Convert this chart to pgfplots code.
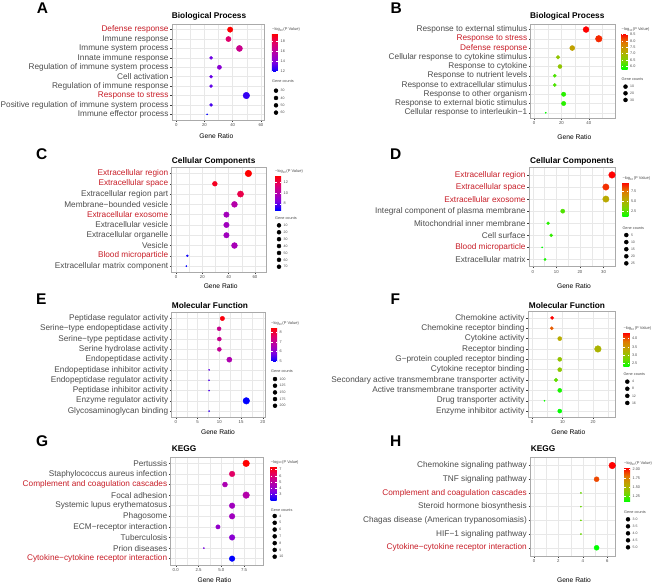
\documentclass[border=0pt]{standalone}
\usepackage{pgfplots}
\pgfplotsset{compat=1.18}
\usepackage{fontspec}
\setmainfont{Liberation Sans}
\newcommand{\fs}[1]{\fontsize{#1}{#1}\selectfont}
\definecolor{labgray}{RGB}{77,77,77}
\definecolor{labred}{RGB}{200,30,40}
\definecolor{gridgray}{RGB}{232,232,232}
\definecolor{bordergray}{RGB}{170,170,170}
\definecolor{tickgray}{RGB}{60,60,60}
\newcommand{\R}[1]{\textcolor{labred}{#1}}
\pgfplotsset{
  colormap={br}{rgb255=(0,0,255) rgb255=(125,0,225) rgb255=(180,0,170) rgb255=(225,0,105) rgb255=(255,0,0)},
  colormap={gr}{rgb255=(0,255,0) rgb255=(125,210,0) rgb255=(185,170,0) rgb255=(225,120,0) rgb255=(255,0,0)},
  dotpanel/.style={
    scale only axis, y dir=reverse, clip=false, anchor=south west,
    axis line style={draw=bordergray, line width=0.5pt},
    tick align=outside, tick pos=left,
    major tick length=1.8pt, minor tick length=0pt,
    tick style={draw=tickgray, line width=0.4pt},
    xmajorgrids, xminorgrids, ymajorgrids,
    major grid style={draw=gridgray, line width=0.5pt},
    minor grid style={draw=gridgray, line width=0.25pt},
    xticklabel style={font=\fs{4.3}, text=labgray, inner sep=1.5pt},
    yticklabel style={font=\fs{8.25}, text=labgray, inner sep=1.5pt},
    ymin=0.4,
    colorbar,
    colorbar style={at={(parent axis.north east)}, anchor=north west, scale only axis, width=6pt,
      axis line style={draw=none}, tick align=inside, major tick length=1.5pt,
      tick style={draw=white, line width=0.3pt},
      yticklabel style={font=\fs{3.8}, text=labgray, inner sep=1pt, xshift=1.5pt},
      yticklabel pos=right},
  },
  dots/.style 2 args={scatter, only marks, mark=*, forget plot, point meta=explicit,
    scatter/use mapped color={draw=mapped color, fill=mapped color},
    visualization depends on={0.6+2.7*sqrt((\thisrow{n}-#1)/(#2-#1)) \as \ms},
    scatter/@pre marker code/.append style={/tikz/mark size=\ms}},
  sizeleg/.style={scale only axis, width=2pt, xmin=-1, xmax=1, y dir=reverse,
    hide axis, clip=false, anchor=north},
  legdots/.style 2 args={scatter, only marks, mark=*, point meta=explicit,
    scatter/use mapped color={draw=black, fill=black},
    visualization depends on={0.6+2.7*sqrt((\thisrow{n}-#1)/(#2-#1)) \as \ms},
    scatter/@pre marker code/.append style={/tikz/mark size=\ms},
    nodes near coords={\pgfmathprintnumber[assume math mode=true]{\pgfplotspointmeta}},
    every node near coord/.append style={anchor=west, xshift=4.5pt, font=\fs{3.5}, text=labgray, inner sep=0pt}},
}
\begin{document}
\begin{tikzpicture}[x=1pt,y=1pt]
\fill[white] (0,0) rectangle (656,584);
\path[use as bounding box] (0,0) rectangle (656,584);

% ---------------- text nodes ----------------
\begin{scope}[every node/.style={inner sep=0pt}]
\node[anchor=base west, font=\bfseries\fs{15.5}] at (36.7,570.7) {A};
\node[anchor=base west, font=\bfseries\fs{15.5}] at (390.3,570.7) {B};
\node[anchor=base west, font=\bfseries\fs{15.5}] at (36,424.7) {C};
\node[anchor=base west, font=\bfseries\fs{15.5}] at (390,424.3) {D};
\node[anchor=base west, font=\bfseries\fs{15.5}] at (36,279) {E};
\node[anchor=base west, font=\bfseries\fs{15.5}] at (390.3,279) {F};
\node[anchor=base west, font=\bfseries\fs{15.5}] at (36,137.3) {G};
\node[anchor=base west, font=\bfseries\fs{15.5}] at (390,137.3) {H};

\node[anchor=base west, font=\bfseries\fs{8.3}] at (171.7,565) {Biological Process};
\node[anchor=base west, font=\bfseries\fs{8.3}] at (530,565) {Biological Process};
\node[anchor=base west, font=\bfseries\fs{8.3}] at (171.7,420.5) {Cellular Components};
\node[anchor=base west, font=\bfseries\fs{8.3}] at (530,420.2) {Cellular Components};
\node[anchor=base west, font=\bfseries\fs{8.3}] at (171.7,275) {Molecular Function};
\node[anchor=base west, font=\bfseries\fs{8.3}] at (528.7,275) {Molecular Function};
\node[anchor=base west, font=\bfseries\fs{8.3}] at (171.7,132.3) {KEGG};
\node[anchor=base west, font=\bfseries\fs{8.3}] at (530.7,132.7) {KEGG};

\node[font=\fs{6.7}] at (216.3,447.7) {Gene Ratio};
\node[font=\fs{6.7}] at (574.3,447.3) {Gene Ratio};
\node[font=\fs{6.7}] at (220.7,298.2) {Gene Ratio};
\node[font=\fs{6.7}] at (574,297.8) {Gene Ratio};
\node[font=\fs{6.7}] at (218,151.5) {Gene Ratio};
\node[font=\fs{6.7}] at (568.3,151.5) {Gene Ratio};
\node[font=\fs{6.7}] at (214.5,3.5) {Gene Ratio};
\node[font=\fs{6.7}] at (574,3.5) {Gene Ratio};

\node[anchor=base west, font=\fs{4}, text=labgray] at (272,553.5) {−log\textsubscript{10}(P Value)};
\node[anchor=base west, font=\fs{4}, text=labgray] at (621.5,553.5) {−log\textsubscript{10}(P Value)};
\node[anchor=base west, font=\fs{4}, text=labgray] at (275,411.3) {−log\textsubscript{10}(P Value)};
\node[anchor=base west, font=\fs{4}, text=labgray] at (622.3,404.7) {−log\textsubscript{10}(P Value)};
\node[anchor=base west, font=\fs{4}, text=labgray] at (271,259.3) {−log\textsubscript{10}(P Value)};
\node[anchor=base west, font=\fs{4}, text=labgray] at (623.3,254.3) {−log\textsubscript{10}(P Value)};
\node[anchor=base west, font=\fs{4}, text=labgray] at (270.7,121) {−log\textsubscript{10}(P Value)};
\node[anchor=base west, font=\fs{4}, text=labgray] at (624,119.3) {−log\textsubscript{10}(P Value)};

\node[anchor=base west, font=\fs{3.8}, text=labgray] at (272,501.2) {Gene counts};
\node[anchor=base west, font=\fs{3.8}, text=labgray] at (621.5,503) {Gene counts};
\node[anchor=base west, font=\fs{3.8}, text=labgray] at (275,364) {Gene counts};
\node[anchor=base west, font=\fs{3.8}, text=labgray] at (622.3,354.2) {Gene counts};
\node[anchor=base west, font=\fs{3.8}, text=labgray] at (271,211.2) {Gene counts};
\node[anchor=base west, font=\fs{3.8}, text=labgray] at (623.3,208) {Gene counts};
\node[anchor=base west, font=\fs{3.8}, text=labgray] at (270.7,73) {Gene counts};
\node[anchor=base west, font=\fs{3.8}, text=labgray] at (624,70.2) {Gene counts};
\end{scope}

% ================= A =================
\begin{axis}[dotpanel, colormap name=br, at={(172pt,464pt)}, width=92pt, height=96pt,
  xmin=-3, xmax=62.2, xtick={0,20,40,60}, xticklabels={0,20,40,60}, minor xtick={10,30,50},
  ymax=10.6, ytick={1,...,10},
  yticklabels={\R{Defense response},Immune response,Immune system process,Innate immune response,Regulation of immune system process,Cell activation,Regulation of immune response,\R{Response to stress},Positive regulation of immune system process,Immune effector process},
  point meta min=11.8, point meta max=19.6,
  colorbar shift/.style={xshift=8pt,yshift=-9.5pt},
  colorbar style={height=38.5pt, ytick={12,14,16,18}, yticklabels={12,14,16,18}}]
\addplot[dots={27}{62}] table[x=x,y=y,meta=p]{
y x p n
1 38.2 19.6 48
2 37.0 17.6 46
3 44.8 16.6 56
4 24.7 13.5 31
5 30.6 14.2 38
6 24.7 13.4 31
7 24.7 13.3 31
8 49.7 12.6 62
9 24.7 12.9 31
10 21.9 11.8 27
};
\end{axis}
\begin{axis}[sizeleg, at={(276pt,497pt)}, height=29.3pt, ymin=25, ymax=65]
\addplot[legdots={27}{62}] table[x=x,y=n,meta=n]{
x n
0 30
0 40
0 50
0 60
};
\end{axis}

% ================= B =================
\begin{axis}[dotpanel, colormap name=gr, at={(530.7pt,465.7pt)}, width=84.6pt, height=94.3pt,
  xmin=-2.5, xmax=59.4, xtick={0,20,40}, xticklabels={0,20,40}, minor xtick={10,30,50},
  ymax=10.6, ytick={1,...,10},
  yticklabels={Response to external stimulus,\R{Response to stress},\R{Defense response},Cellular response to cytokine stimulus,Response to cytokine,Response to nutrient levels,Response to extracellular stimulus,Response to other organism,Response to external biotic stimulus,Cellular response to interleukin−1},
  point meta min=5.77, point meta max=8.58,
  colorbar shift/.style={xshift=6.2pt,yshift=-9.5pt},
  colorbar style={height=35.8pt, ytick={6,6.5,7,7.5,8,8.5}, yticklabels={6.0,6.5,7.0,7.5,8.0,8.5}}]
\addplot[dots={7}{33}] table[x=x,y=y,meta=p]{
y x p n
1 38.0 8.58 27
2 47.3 8.35 33
3 27.9 7.3 20
4 17.5 6.7 13
5 18.9 6.7 14
6 15.1 6.2 11
7 15.1 6.2 11
8 21.6 6.0 16
9 21.6 6.0 16
10 8.5 5.77 7
};
\end{axis}
\begin{axis}[sizeleg, at={(625.5pt,500.7pt)}, height=20pt, ymin=5, ymax=35]
\addplot[legdots={7}{33}] table[x=x,y=n,meta=n]{
x n
0 10
0 20
0 30
};
\end{axis}

% ================= C =================
\begin{axis}[dotpanel, colormap name=br, at={(171.7pt,311.7pt)}, width=95pt, height=105pt,
  xmin=-3.3, xmax=68.9, xtick={0,20,40,60}, xticklabels={0,20,40,60}, minor xtick={10,30,50},
  ymax=10.6, ytick={1,...,10},
  yticklabels={\R{Extracellular region},\R{Extracellular space},Extracellular region part,Membrane−bounded vesicle,\R{Extracellular exosome},Extracellular vesicle,Extracellular organelle,Vesicle,\R{Blood microparticle},Extracellular matrix component},
  point meta min=6.85, point meta max=13.1,
  colorbar shift/.style={xshift=8.3pt,yshift=-8.4pt},
  colorbar style={height=34.3pt, ytick={8,10,12}, yticklabels={8,10,12}}]
\addplot[dots={10}{70}] table[x=x,y=y,meta=p]{
y x p n
1 55.0 13.1 70
2 29.5 12.6 37
3 49.0 12.0 62
4 44.4 10.0 56
5 38.3 9.5 48
6 38.3 9.4 48
7 38.3 9.4 48
8 44.4 9.6 56
9 8.6 7.0 11
10 7.8 6.85 10
};
\end{axis}
\begin{axis}[sizeleg, at={(279pt,362.1pt)}, height=48.3pt, ymin=5, ymax=75]
\addplot[legdots={10}{70}] table[x=x,y=n,meta=n]{
x n
0 10
0 20
0 30
0 40
0 50
0 60
0 70
};
\end{axis}

% ================= D =================
\begin{axis}[dotpanel, colormap name=gr, at={(529pt,317.3pt)}, width=86.3pt, height=99pt,
  xmin=-1.6, xmax=35, xtick={0,10,20,30}, xticklabels={0,10,20,30}, minor xtick={5,15,25},
  ymax=8.6, ytick={1,...,8},
  yticklabels={\R{Extracellular region},\R{Extracellular space},\R{Extracellular exosome},Integral component of plasma membrane,Mitochondrial inner membrane,Cell surface,\R{Blood microparticle},Extracellular matrix},
  point meta min=1.1, point meta max=9.85,
  colorbar shift/.style={xshift=7pt,yshift=-14.6pt},
  colorbar style={height=34.4pt, ytick={2.5,5,7.5}, yticklabels={2.5,5.0,7.5}}]
\addplot[dots={3}{26}] table[x=x,y=y,meta=p]{
y x p n
1 33.6 9.85 26
2 31.0 9.0 24
3 31.0 5.5 24
4 12.7 2.5 10
5 6.5 1.8 5
6 7.8 2.0 6
7 4.0 1.1 3
8 5.2 1.5 4
};
\end{axis}
\begin{axis}[sizeleg, at={(626.3pt,352.5pt)}, height=35.4pt, ymin=2.5, ymax=27.5]
\addplot[legdots={3}{26}] table[x=x,y=n,meta=n]{
x n
0 5
0 10
0 15
0 20
0 25
};
\end{axis}

% ================= E =================
\begin{axis}[dotpanel, colormap name=br, at={(171.7pt,166.7pt)}, width=93.3pt, height=105pt,
  xmin=-0.95, xmax=20.5, xtick={0,5,10,15,20}, xticklabels={0,5,10,15,20}, minor xtick={2.5,7.5,12.5,17.5},
  ymax=10.6, ytick={1,...,10},
  yticklabels={Peptidase regulator activity,Serine−type endopeptidase activity,Serine−type peptidase activity,Serine hydrolase activity,Endopeptidase activity,Endopeptidase inhibitor activity,Endopeptidase regulator activity,Peptidase inhibitor activity,Enzyme regulator activity,Glycosaminoglycan binding},
  point meta min=4.9, point meta max=8.5,
  colorbar shift/.style={xshift=6pt,yshift=-15.4pt},
  colorbar style={height=34pt, ytick={5,6,7,8}, yticklabels={5,6,7,8}}]
\addplot[dots={99}{211}] table[x=x,y=y,meta=p]{
y x p n
1 10.7 8.4 139
2 9.95 7.1 129
3 10.0 7.1 130
4 10.0 7.0 130
5 12.3 6.6 160
6 7.65 5.6 99
7 7.65 5.5 99
8 7.65 5.5 99
9 16.2 4.9 211
10 7.65 5.3 99
};
\end{axis}
\begin{axis}[sizeleg, at={(275pt,208.3pt)}, height=33.4pt, ymin=87.5, ymax=212.5]
\addplot[legdots={99}{211}] table[x=x,y=n,meta=n]{
x n
0 100
0 125
0 150
0 175
0 200
};
\end{axis}

% ================= F =================
\begin{axis}[dotpanel, colormap name=gr, at={(528pt,166.7pt)}, width=87.3pt, height=105.6pt,
  xmin=-1.3, xmax=27.3, xtick={0,10,20}, xticklabels={0,10,20}, minor xtick={5,15,25},
  ymax=10.6, ytick={1,...,10},
  yticklabels={Chemokine activity,Chemokine receptor binding,Cytokine activity,Receptor binding,G−protein coupled receptor binding,Cytokine receptor binding,Secondary active transmembrane transporter activity,Active transmembrane transporter activity,Drug transporter activity,Enzyme inhibitor activity},
  point meta min=2.3, point meta max=4.34,
  colorbar shift/.style={xshift=8pt,yshift=-21pt},
  colorbar style={height=34pt, ytick={2.5,3,3.5,4}, yticklabels={2.5,3.0,3.5,4.0}}]
\addplot[dots={3}{17}] table[x=x,y=y,meta=p]{
y x p n
1 6.6 4.34 5
2 6.5 3.95 5
3 9.1 3.3 7
4 21.6 3.2 17
5 9.1 3.0 7
6 9.1 2.95 7
7 7.9 2.7 6
8 9.1 2.4 7
9 4.1 2.35 3
10 9.1 2.3 7
};
\end{axis}
\begin{axis}[sizeleg, at={(627.3pt,205.9pt)}, height=28.4pt, ymin=2, ymax=18]
\addplot[legdots={3}{17}] table[x=x,y=n,meta=n]{
x n
0 4
0 8
0 12
0 16
};
\end{axis}

% ================= G =================
\begin{axis}[dotpanel, colormap name=br, at={(170.7pt,19pt)}, width=92.6pt, height=108pt,
  xmin=-0.55, xmax=9.6, xtick={0,2.5,5,7.5}, xticklabels={0.0,2.5,5.0,7.5}, minor xtick={1.25,3.75,6.25,8.75},
  ymax=10.6, ytick={1,...,10},
  yticklabels={Pertussis,Staphylococcus aureus infection,\R{Complement and coagulation cascades},Focal adhesion,Systemic lupus erythematosus,Phagosome,ECM−receptor interaction,Tuberculosis,Prion diseases,\R{Cytokine−cytokine receptor interaction}},
  point meta min=2.1, point meta max=7.5,
  colorbar shift/.style={xshift=7.4pt,yshift=-9.3pt},
  colorbar style={height=34pt, ytick={3,4,5,6,7}, yticklabels={3,4,5,6,7}}]
\addplot[dots={4}{10}] table[x=x,y=y,meta=p]{
y x p n
1 7.72 7.5 10
2 6.18 6.2 8
3 5.40 4.6 7
4 7.72 4.8 10
5 6.18 4.3 8
6 6.18 4.3 8
7 4.63 4.0 6
8 6.18 3.8 8
9 3.09 3.4 4
10 6.18 2.1 8
};
\end{axis}
\begin{axis}[sizeleg, at={(274.7pt,71.4pt)}, height=47.5pt, ymin=3.5, ymax=10.5]
\addplot[legdots={4}{10}] table[x=x,y=n,meta=n]{
x n
0 4
0 5
0 6
0 7
0 8
0 9
0 10
};
\end{axis}

% ================= H =================
\begin{axis}[dotpanel, colormap name=gr, at={(530.3pt,28pt)}, width=85pt, height=98.7pt,
  xmin=-0.3, xmax=6.65, xtick={0,2,4,6}, xticklabels={0,2,4,6}, minor xtick={1,3,5},
  ymax=7.6, ytick={1,...,7},
  yticklabels={Chemokine signaling pathway,TNF signaling pathway,\R{Complement and coagulation cascades},Steroid hormone biosynthesis,Chagas disease (American trypanosomiasis),HIF−1 signaling pathway,\R{Cytokine−cytokine receptor interaction}},
  point meta min=1.1, point meta max=2.04,
  colorbar shift/.style={xshift=8.7pt,yshift=-10.4pt},
  colorbar style={height=34pt, ytick={1.25,1.5,1.75,2}, yticklabels={1.25,1.50,1.75,2.00}}]
\addplot[dots={3}{5}] table[x=x,y=y,meta=p]{
y x p n
1 6.4 2.04 5
2 5.12 1.9 4
3 3.84 1.3 3
4 3.84 1.3 3
5 3.84 1.3 3
6 3.84 1.3 3
7 5.12 1.1 4
};
\end{axis}
\begin{axis}[sizeleg, at={(628pt,68.2pt)}, height=35pt, ymin=2.75, ymax=5.25]
\addplot[legdots={3}{5}, nodes near coords={\pgfmathprintnumber[assume math mode=true,fixed,fixed zerofill,precision=1]{\pgfplotspointmeta}}] table[x=x,y=n,meta=n]{
x n
0 3
0 3.5
0 4
0 4.5
0 5
};
\end{axis}
\end{tikzpicture}
\end{document}
